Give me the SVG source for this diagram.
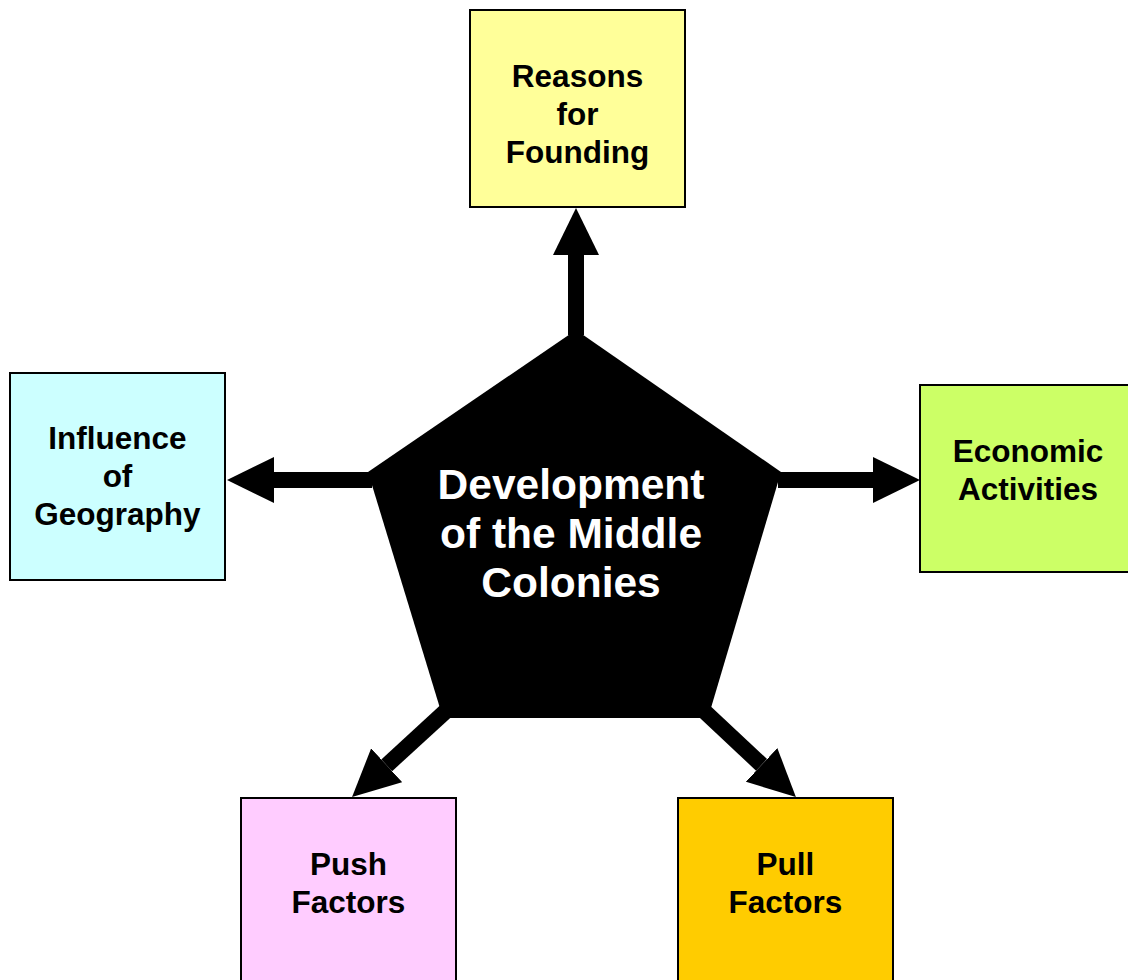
<svg xmlns="http://www.w3.org/2000/svg" width="1128" height="980" viewBox="0 0 1128 980">
<style>
.box{stroke:#000;stroke-width:2}
.t{font-family:"Liberation Sans",Arial,sans-serif;font-weight:bold;font-size:31.5px;text-anchor:middle;fill:#000}
.c{font-family:"Liberation Sans",Arial,sans-serif;font-weight:bold;font-size:42.5px;text-anchor:middle;fill:#fff}
.a{stroke:#000;stroke-width:16;fill:none;marker-end:url(#h)}
</style>
<defs>
<marker id="h" viewBox="0 0 47 46" refX="0" refY="23" markerWidth="47" markerHeight="46" markerUnits="userSpaceOnUse" orient="auto">
<path d="M0,0 L47,23 L0,46 z" fill="#000"/>
</marker>
</defs>
<rect width="1128" height="980" fill="#fff"/>
<g id="connectors">
<line class="a" x1="576" y1="335" x2="576" y2="255"/>
<line class="a" x1="372" y1="480" x2="274" y2="480"/>
<line class="a" x1="778" y1="480" x2="873" y2="480"/>
<line class="a" x1="447" y1="710" x2="386.7" y2="765.3"/>
<line class="a" x1="703" y1="710" x2="761.6" y2="764.9"/>
</g>
<g id="center">
<polygon points="576,330 781,472 708,718 443,718 368,472" fill="#000"/>
<text class="c" x="571" y="499">Development</text>
<text class="c" x="571" y="548">of the Middle</text>
<text class="c" x="571" y="597">Colonies</text>
</g>
<g id="founding">
<rect class="box" x="470" y="10" width="215" height="197" fill="#FFFF99"/>
<text class="t" x="577.5" y="87">Reasons</text>
<text class="t" x="577.5" y="125">for</text>
<text class="t" x="577.5" y="163">Founding</text>
</g>
<g id="geography">
<rect class="box" x="10" y="373" width="215" height="207" fill="#CCFFFF"/>
<text class="t" x="117.5" y="449">Influence</text>
<text class="t" x="117.5" y="487">of</text>
<text class="t" x="117.5" y="525">Geography</text>
</g>
<g id="economic">
<rect class="box" x="920" y="385" width="215" height="187" fill="#CCFF66"/>
<text class="t" x="1028" y="462">Economic</text>
<text class="t" x="1028" y="500">Activities</text>
</g>
<g id="push">
<rect class="box" x="241" y="798" width="215" height="190" fill="#FFCCFF"/>
<text class="t" x="348.5" y="875">Push</text>
<text class="t" x="348.5" y="913">Factors</text>
</g>
<g id="pull">
<rect class="box" x="678" y="798" width="215" height="190" fill="#FFCC00"/>
<text class="t" x="785.5" y="875">Pull</text>
<text class="t" x="785.5" y="913">Factors</text>
</g>
</svg>
